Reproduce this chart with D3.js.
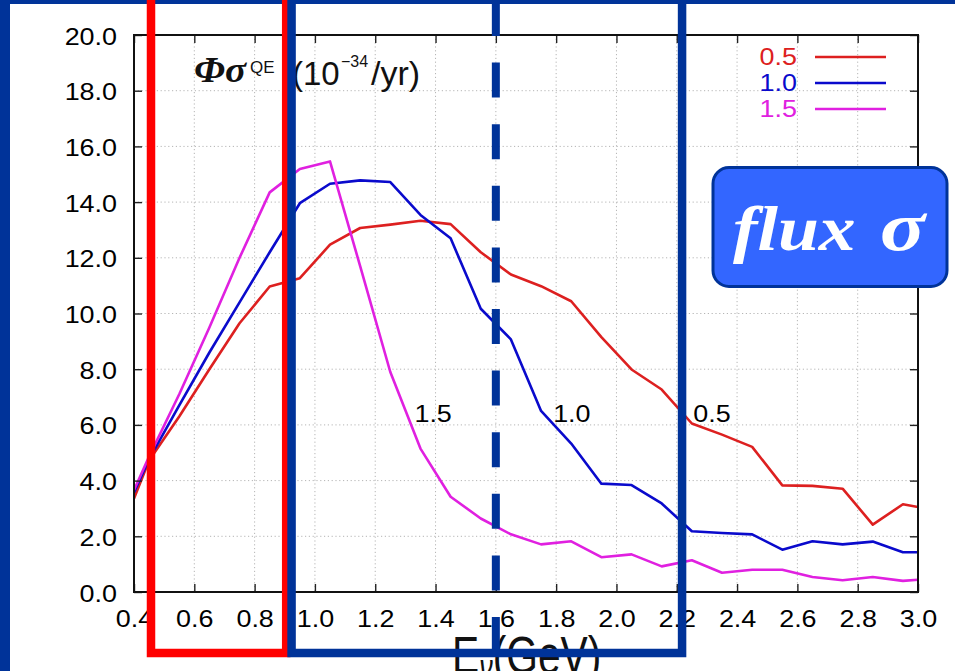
<!DOCTYPE html>
<html>
<head>
<meta charset="utf-8">
<script src="https://cdn.jsdelivr.net/npm/d3@7"></script>
<style>
  html, body { margin: 0; padding: 0; background: #fff; }
  svg { display: block; }
</style>
</head>
<body>
<svg id="chart" width="955" height="671"></svg>
<script>
// Neutrino energy bins (GeV)
const energy = [0.4, 0.45, 0.55, 0.65, 0.75, 0.85, 0.95, 1.05, 1.15, 1.25, 1.35, 1.45, 1.55, 1.65,
  1.75, 1.85, 1.95, 2.05, 2.15, 2.25, 2.35, 2.45, 2.55, 2.65, 2.75, 2.85, 2.95, 3.0];

// Flux x QE cross section (10^-34 / yr) for each setting
const series05 = [3.36, 4.72, 6.3, 8.0, 9.65, 10.97, 11.27, 12.47, 13.07, 13.19, 13.33, 13.21, 12.2, 11.4,
  10.98, 10.44, 9.15, 7.99, 7.27, 6.05, 5.65, 5.21, 3.83, 3.81, 3.71, 2.42, 3.15, 3.05];
const series10 = [3.57, 4.77, 6.7, 8.6, 10.4, 12.2, 13.96, 14.66, 14.78, 14.72, 13.54, 12.7, 10.17, 9.07,
  6.5, 5.33, 3.89, 3.84, 3.18, 2.18, 2.12, 2.07, 1.52, 1.82, 1.71, 1.81, 1.43, 1.43];
const series15 = [3.66, 4.86, 7.1, 9.5, 12.0, 14.35, 15.19, 15.46, 11.7, 7.9, 5.15, 3.42, 2.64, 2.07,
  1.71, 1.82, 1.25, 1.35, 0.92, 1.14, 0.69, 0.80, 0.80, 0.54, 0.42, 0.54, 0.40, 0.44];

const seriesNames = ["0.5", "1.0", "1.5"];
const seriesColors = ["#dd2020", "#0a0acc", "#e020e0"];

// In-plot curve labels (data coordinates)
const curveLabelX = [1.33, 1.79, 2.255];
const curveLabelY = [6.1, 6.1, 6.1];
const curveLabelText = ["1.5", "1.0", "0.5"];

const xTicks = [0.4, 0.6, 0.8, 1.0, 1.2, 1.4, 1.6, 1.8, 2.0, 2.2, 2.4, 2.6, 2.8, 3.0];
const yTicks = [0, 2, 4, 6, 8, 10, 12, 14, 16, 18, 20];

// Highlight bands (GeV) and marker energy
const lowBand = [0.4, 0.85];
const midBand = [0.9, 2.2];
const markerEnergy = 1.6;

const svg = d3.select("#chart");
const W = 955, H = 671;
const plot = { left: 134, right: 918, top: 35, bottom: 592 };

const x = d3.scaleLinear().domain([0.4, 3.0]).range([plot.left, plot.right]);
const y = d3.scaleLinear().domain([0, 20]).range([plot.bottom, plot.top]);

const sansFont = "'Liberation Sans', Arial, Helvetica, sans-serif";
const serifFont = "'Liberation Serif', 'Times New Roman', serif";
const TX = 1.17; // horizontal stretch of the label glyphs

// Slide frame
svg.append("rect").attr("width", W).attr("height", H).attr("fill", "#003399");
svg.append("rect").attr("x", 10).attr("y", 4).attr("width", W - 10).attr("height", H - 4).attr("fill", "#fff");

// Grid
const grid = svg.append("g").attr("stroke", "#b5b5b5").attr("stroke-width", 1).attr("stroke-dasharray", "1.2,2.6");
grid.selectAll("line.gx").data(xTicks.slice(1, -1)).join("line")
  .attr("x1", d => x(d)).attr("x2", d => x(d)).attr("y1", plot.top).attr("y2", plot.bottom);
grid.selectAll("line.gy").data(yTicks.slice(1, -1)).join("line")
  .attr("x1", plot.left).attr("x2", plot.right).attr("y1", d => y(d)).attr("y2", d => y(d));

// Curves
svg.append("clipPath").attr("id", "plotClip").append("rect")
  .attr("x", plot.left).attr("y", plot.top).attr("width", plot.right - plot.left).attr("height", plot.bottom - plot.top);

const allSeries = [series05, series10, series15];
const line = d3.line().x((d, i) => x(energy[i])).y(d => y(d));
svg.append("g").attr("clip-path", "url(#plotClip)")
  .selectAll("path").data(allSeries).join("path")
  .attr("d", d => line(d))
  .attr("fill", "none")
  .attr("stroke", (d, i) => seriesColors[i])
  .attr("stroke-width", 2.6)
  .attr("stroke-linejoin", "round");

// Axes with inward ticks on all four sides
const tickLen = 8;
const bottomAxis = d3.axisBottom(x).tickValues(xTicks).tickSize(-tickLen).tickFormat(d3.format(".1f")).tickPadding(0);
const topAxis = d3.axisTop(x).tickValues(xTicks).tickSize(-tickLen).tickFormat("");
const leftAxis = d3.axisLeft(y).tickValues(yTicks).tickSize(-tickLen).tickFormat(d3.format(".1f")).tickPadding(0);
const rightAxis = d3.axisRight(y).tickValues(yTicks).tickSize(-tickLen).tickFormat("");

function styleAxis(g) {
  g.select(".domain").remove();
  g.selectAll(".tick line").attr("stroke", "#222").attr("stroke-width", 1.4);
}

const gB = svg.append("g").attr("transform", `translate(0,${plot.bottom})`).call(bottomAxis).call(styleAxis);
gB.selectAll(".tick text")
  .attr("y", 0).attr("dy", null)
  .attr("transform", `translate(0,35) scale(${TX},1)`)
  .attr("font-family", sansFont).attr("font-size", 23).attr("fill", "#000");

svg.append("g").attr("transform", `translate(0,${plot.top})`).call(topAxis).call(styleAxis);

const gL = svg.append("g").attr("transform", `translate(${plot.left},0)`).call(leftAxis).call(styleAxis);
gL.selectAll(".tick text")
  .attr("x", 0).attr("dy", null)
  .attr("transform", `translate(-17,9) scale(${TX},1)`)
  .attr("font-family", sansFont).attr("font-size", 23).attr("fill", "#000");

svg.append("g").attr("transform", `translate(${plot.right},0)`).call(rightAxis).call(styleAxis);

// Frame
svg.append("rect")
  .attr("x", plot.left).attr("y", plot.top)
  .attr("width", plot.right - plot.left).attr("height", plot.bottom - plot.top)
  .attr("fill", "none").attr("stroke", "#111").attr("stroke-width", 2);

// Legend
const legend = svg.append("g");
seriesNames.forEach((name, i) => {
  const ly = 57 + i * 26;
  legend.append("text")
    .attr("transform", `translate(797,${ly + 8}) scale(${TX},1)`)
    .attr("text-anchor", "end")
    .attr("font-family", sansFont).attr("font-size", 23)
    .attr("fill", seriesColors[i]).text(name);
  legend.append("line")
    .attr("x1", 815).attr("x2", 886).attr("y1", ly).attr("y2", ly)
    .attr("stroke", seriesColors[i]).attr("stroke-width", 2.6);
});

// Curve labels
svg.append("g").selectAll("text").data(curveLabelText).join("text")
  .attr("transform", (d, i) => `translate(${x(curveLabelX[i])},${y(curveLabelY[i])}) scale(${TX},1)`)
  .attr("font-family", sansFont).attr("font-size", 23).attr("fill", "#000")
  .text(d => d);

// Plot title: Φσ^QE (10^-34/yr)
svg.append("text").attr("transform", "translate(194,82) scale(1.12,1)")
  .attr("font-family", serifFont).attr("font-style", "italic").attr("font-weight", "bold")
  .attr("font-size", 35).attr("fill", "#111").text("Φσ");
svg.append("text").attr("x", 250).attr("y", 73)
  .attr("font-family", sansFont).attr("font-size", 17).attr("fill", "#111").text("QE");
svg.append("text").attr("x", 292).attr("y", 85)
  .attr("font-family", sansFont).attr("font-size", 33).attr("fill", "#111").text("(10");
svg.append("text").attr("x", 341).attr("y", 67)
  .attr("font-family", sansFont).attr("font-size", 16).attr("fill", "#111").text("\u221234");
svg.append("text").attr("x", 371).attr("y", 85)
  .attr("font-family", sansFont).attr("font-size", 34).attr("fill", "#111").text("/yr)");

// X axis title
const xt = svg.append("text")
  .attr("transform", "translate(452,673) scale(0.97,1.25)")
  .attr("font-family", sansFont).attr("font-size", 42).attr("fill", "#111");
xt.append("tspan").text("E");
xt.append("tspan").attr("font-size", 28).attr("dy", 5).attr("font-style", "italic").text("ν");
xt.append("tspan").attr("dy", -5).text("(GeV)");

// Highlight bands
const bandBottom = 653;
svg.append("rect")
  .attr("x", x(lowBand[0]) + 17).attr("y", -10)
  .attr("width", x(lowBand[1]) - x(lowBand[0]) - 0.5).attr("height", bandBottom + 10)
  .attr("fill", "none").attr("stroke", "#ff0000").attr("stroke-width", 8.5);
svg.append("rect")
  .attr("x", x(midBand[0]) + 6.8).attr("y", -10)
  .attr("width", x(midBand[1]) - x(midBand[0]) - 1.5).attr("height", bandBottom + 10)
  .attr("fill", "none").attr("stroke", "#003399").attr("stroke-width", 8.5);

// Marker energy (dashed)
svg.append("line")
  .attr("x1", x(markerEnergy)).attr("x2", x(markerEnergy))
  .attr("y1", 1).attr("y2", bandBottom)
  .attr("stroke", "#003399").attr("stroke-width", 8).attr("stroke-dasharray", "35,26.6");

// Callout box
svg.append("rect")
  .attr("x", 713).attr("y", 167.5).attr("width", 234).attr("height", 119).attr("rx", 16)
  .attr("fill", "#3366ff").attr("stroke", "#003399").attr("stroke-width", 3);
svg.append("text").attr("transform", "translate(733,250) scale(1.15,1)")
  .attr("font-family", serifFont).attr("font-style", "italic").attr("font-weight", "bold")
  .attr("font-size", 64).attr("fill", "#fff").text("flux");
svg.append("text").attr("transform", "translate(880,250) scale(1.2,1)")
  .attr("font-family", serifFont).attr("font-style", "italic").attr("font-weight", "bold")
  .attr("font-size", 70).attr("fill", "#fff").text("σ");
</script>
</body>
</html>
